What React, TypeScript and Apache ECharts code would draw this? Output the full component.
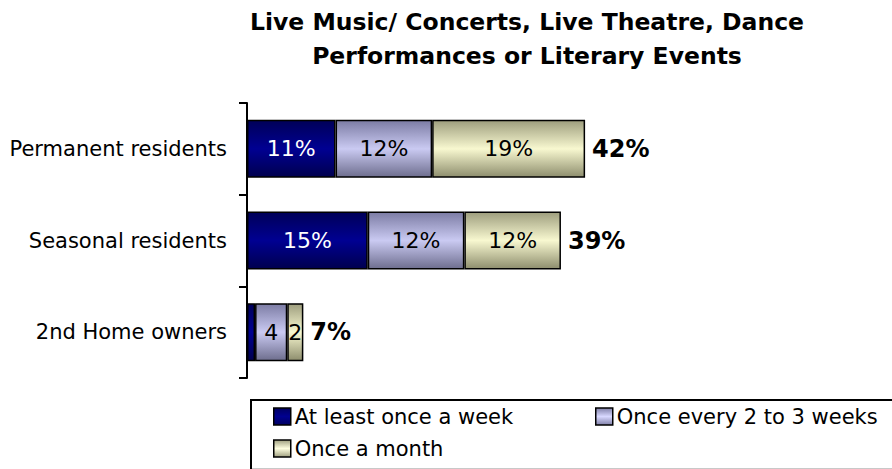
import React, { useEffect, useRef } from "react";
import * as echarts from "echarts";

const categories = ["Permanent residents", "Seasonal residents", "2nd Home owners"];
const seriesNames = ["At least once a week", "Once every 2 to 3 weeks", "Once a month"];
const weekly = [11, 15, 1];
const biweekly = [12, 12, 4];
const monthly = [19, 12, 2];
const totals = [42, 39, 7];
const titleLines = ["Live Music/ Concerts, Live Theatre, Dance", "Performances or Literary Events"];

const FONT = "DejaVu Sans";

const grad = (top: string, mid: string, bot: string) =>
  new echarts.graphic.LinearGradient(0, 0, 0, 1, [
    { offset: 0, color: top },
    { offset: 0.5, color: mid },
    { offset: 1, color: bot },
  ]);

export default function App() {
  const ref = useRef<HTMLDivElement>(null);
  useEffect(() => {
    if (!ref.current) return;
    const chart = echarts.init(ref.current, null, { renderer: "svg" });
    const fills = [
      grad("#000058", "#000092", "#00004e"),
      grad("#7c7ca4", "#cacaf2", "#6e6e8e"),
      grad("#9e9e7e", "#f8f8d0", "#8e8e6e"),
    ];
    const legendFills = [
      grad("#000060", "#000090", "#000060"),
      grad("#8080a8", "#d8d8ff", "#8080a8"),
      grad("#a0a080", "#ffffe0", "#a0a080"),
    ];
    const datas = [weekly, biweekly, monthly];
    const labelColors = ["#ffffff", "#000000", "#000000"];
    const series: any[] = datas.map((d, i) => ({
      name: seriesNames[i],
      type: "bar",
      stack: "s",
      barWidth: 58,
      data: d.map((v, j) => ({
        value: v,
        label: { show: !(j === 2 && i === 0) },
      })),
      itemStyle: { color: fills[i], borderColor: "#000", borderWidth: 1.5 },
      label: {
        show: true,
        position: "inside",
        color: labelColors[i],
        fontFamily: FONT,
        fontSize: 22,
        formatter: (p: any) => (p.dataIndex === 2 ? `${p.value}` : `${p.value}%`),
      },
    }));
    series.push({
      name: "Total",
      type: "bar",
      barWidth: 58,
      barGap: "-100%",
      data: totals,
      z: 1,
      itemStyle: { color: "rgba(0,0,0,0)" },
      label: {
        show: true,
        position: "right",
        distance: 7,
        color: "#000",
        fontFamily: FONT,
        fontWeight: "bold",
        fontSize: 24,
        formatter: (p: any) => `${p.value}%`,
      },
    });
    const legendPos = [
      { left: 273, top: 406 },
      { left: 595, top: 406 },
      { left: 273, top: 438 },
    ];
    chart.setOption({
      animation: false,
      title: {
        text: titleLines.join("\n"),
        left: 522,
        textAlign: "center",
        top: 0,
        textStyle: {
          fontFamily: FONT,
          fontWeight: "bold",
          fontSize: 23.5,
          lineHeight: 34,
          color: "#000",
        },
      },
      grid: { left: 247, top: 103, width: 402.5, height: 275 },
      xAxis: { type: "value", min: 0, max: 50, show: false },
      yAxis: {
        type: "category",
        data: categories,
        inverse: true,
        axisLine: { show: true, lineStyle: { color: "#000", width: 2 } },
        axisTick: { show: true, alignWithLabel: false, length: 8, lineStyle: { color: "#000", width: 2 } },
        axisLabel: { color: "#000", fontFamily: FONT, fontSize: 21, margin: 20 },
      },
      legend: seriesNames.map((n, i) => ({
        data: [n],
        left: legendPos[i].left,
        top: legendPos[i].top,
        padding: 0,
        itemWidth: 17,
        itemHeight: 17,
        itemGap: 4,
        icon: "rect",
        textStyle: { fontFamily: FONT, fontSize: 21, color: "#000", padding: [0, 0, 0, -1] },
        itemStyle: { color: legendFills[i], borderColor: "#000", borderWidth: 1.5 },
      })),
      graphic: [
        {
          type: "rect",
          shape: { x: 251, y: 400, width: 700, height: 80 },
          style: { fill: "none", stroke: "#000", lineWidth: 2 },
        },
        {
          type: "line",
          shape: { x1: 252, y1: 468.5, x2: 892, y2: 468.5 },
          style: { stroke: "#c8c8c8", lineWidth: 1 },
        },
      ],
      series,
    });
    return () => chart.dispose();
  }, []);
  return <div ref={ref} style={{ width: 892, height: 469, position: "absolute", left: 0, top: 0 }} />;
}
